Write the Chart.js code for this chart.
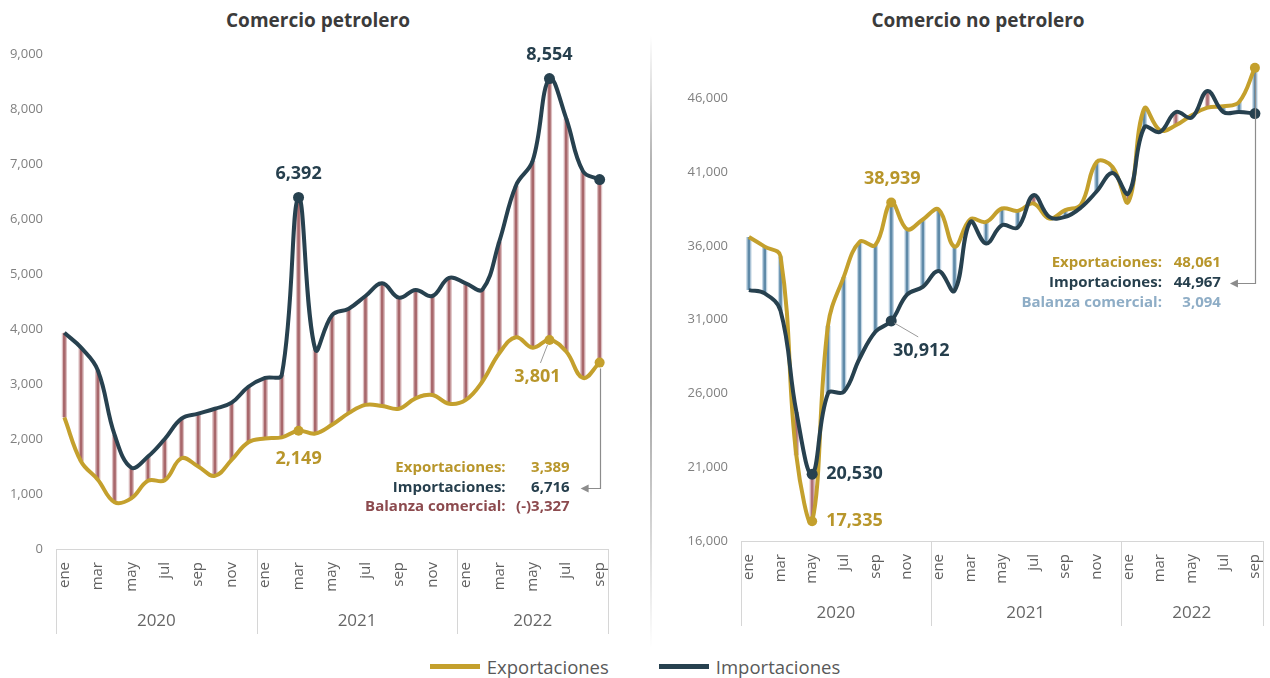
<!DOCTYPE html>
<html lang="es">
<head>
<meta charset="utf-8">
<title>Comercio petrolero y no petrolero</title>
<script src="https://cdn.jsdelivr.net/npm/chart.js@4.4.1/dist/chart.umd.min.js"></script>
<style>
  html, body { margin: 0; padding: 0; background: #fff; }
  body { width: 1270px; height: 678px; position: relative; overflow: hidden; font-family: 'Open Sans', sans-serif; }
  .titulo { position: absolute; top: 7px; font-weight: bold; font-size: 19px; color: #3b3b3b; text-align: center; }
  #panelIzq { position: absolute; left: 0; top: 0; }
  #panelDer { position: absolute; left: 655px; top: 0; }
  .separador { position: absolute; left: 650px; top: 36px; width: 2px; height: 612px;
    background: linear-gradient(to bottom, rgba(170,170,170,0), #b4b4b4 20%, #a8a8a8 60%, rgba(170,170,170,0)); }
  #leyenda { position: absolute; left: 0; top: 654px; width: 1270px; height: 24px; display: flex; justify-content: center; align-items: center; gap: 50px; }
  .item { display: flex; align-items: center; gap: 7px; font-size: 18.5px; color: #595959; }
  .linea { width: 50px; height: 5px; }
</style>
</head>
<body>
<div class="titulo" style="left:0;width:636px;">Comercio petrolero</div>
<div class="titulo" style="left:655px;width:646px;">Comercio no petrolero</div>
<div class="separador"></div>
<canvas id="panelIzq" width="640" height="645"></canvas>
<canvas id="panelDer" width="631" height="645"></canvas>
<div id="leyenda"></div>

<script>
// Datos mensuales, ene 2020 - sep 2022 (millones de dólares)
const meses = ['ene', 'feb', 'mar', 'abr', 'may', 'jun', 'jul', 'ago', 'sep', 'oct', 'nov', 'dic'];
const anios = ['2020', '2021', '2022'];
const series = ['Exportaciones', 'Importaciones'];

const exportacionesPetroleras = [2390, 1590, 1260, 850, 920, 1240, 1250, 1650, 1500, 1330, 1620, 1940,
  2010, 2030, 2149, 2100, 2260, 2470, 2620, 2600, 2550, 2740, 2800, 2640,
  2710, 3050, 3560, 3850, 3660, 3801, 3590, 3110, 3389];
const importacionesPetroleras = [3930, 3660, 3250, 2080, 1480, 1680, 2000, 2370, 2460, 2550, 2660, 2950,
  3110, 3170, 6392, 3630, 4250, 4370, 4600, 4830, 4570, 4710, 4600, 4930,
  4830, 4720, 5590, 6610, 7060, 8554, 7830, 6870, 6716];

const exportacionesNoPetroleras = [36600, 35950, 35300, 21800, 17335, 30600, 33900, 36270, 36050, 38939, 37130, 37790,
  38460, 35950, 37800, 37620, 38530, 38370, 38870, 37850, 38420, 38800, 41690, 41350,
  38980, 45300, 43830, 44170, 44850, 45370, 45460, 45750, 48061];
const importacionesNoPetroleras = [33000, 32780, 31600, 24760, 20530, 26000, 26110, 28370, 30180, 30912, 32700, 33220,
  34300, 32950, 37620, 36160, 37400, 37240, 39430, 37960, 37960, 38600, 39700, 40940,
  39550, 44020, 43720, 45070, 44690, 46490, 45070, 45070, 44967];

const ticksPetrolero = [0, 1000, 2000, 3000, 4000, 5000, 6000, 7000, 8000, 9000];
const ticksNoPetrolero = [16000, 21000, 26000, 31000, 36000, 41000, 46000];

// puntos destacados (índices de mes)
const marcasPetrolero = { exp: [14, 29, 32], imp: [14, 29, 32] };
const marcasNoPetrolero = { exp: [4, 9, 32], imp: [4, 9, 32] };

const ORO = '#c4a02d';
const AZUL_OSCURO = '#27414f';
const TEXTO_ORO = '#b8962b';
const TEXTO_OSCURO = '#263f4d';
const FUENTE = "'Open Sans', sans-serif";

const fmt = v => Math.round(v).toLocaleString('en-US');

const etiquetas = [];
anios.forEach(a => meses.forEach(m => {
  if (etiquetas.length < exportacionesPetroleras.length) etiquetas.push(m);
}));

// Eje de años con cajas debajo de los meses
const ejeAnios = {
  id: 'ejeAnios',
  afterDraw(chart, args, o) {
    const { ctx, chartArea: ca, scales: { x } } = chart;
    const paso = x.getPixelForValue(1) - x.getPixelForValue(0);
    const cortes = [x.left];
    for (let i = 12; i < chart.data.labels.length; i += 12) cortes.push(x.getPixelForValue(i) - paso / 2);
    cortes.push(x.right);
    ctx.save();
    ctx.strokeStyle = '#d6d6d6';
    ctx.lineWidth = 1;
    ctx.beginPath();
    ctx.moveTo(x.left, ca.bottom + 0.5);
    ctx.lineTo(x.right, ca.bottom + 0.5);
    cortes.forEach(c => {
      const cx = Math.round(c) + 0.5;
      ctx.moveTo(cx, ca.bottom);
      ctx.lineTo(cx, ca.bottom + o.largo);
    });
    ctx.stroke();
    ctx.fillStyle = '#666';
    ctx.font = '17px ' + FUENTE;
    ctx.textAlign = 'center';
    ctx.textBaseline = 'middle';
    anios.forEach((a, k) => ctx.fillText(a, (cortes[k] + cortes[k + 1]) / 2, ca.bottom + o.dy));
    ctx.restore();
  }
};

// Etiquetas de valores destacados
const etiquetasDatos = {
  id: 'etiquetasDatos',
  afterDatasetsDraw(chart, args, o) {
    const { ctx } = chart;
    ctx.save();
    ctx.font = 'bold 18px ' + FUENTE;
    ctx.textBaseline = 'middle';
    o.items.forEach(it => {
      const p = chart.getDatasetMeta(it.ds).data[it.i];
      const v = chart.data.datasets[it.ds].data[it.i];
      if (it.guia) {
        ctx.strokeStyle = '#9a9a9a';
        ctx.lineWidth = 1;
        ctx.beginPath();
        ctx.moveTo(p.x + it.guia[0], p.y + it.guia[1]);
        ctx.lineTo(p.x + it.guia[2], p.y + it.guia[3]);
        ctx.stroke();
      }
      ctx.fillStyle = it.color;
      ctx.textAlign = it.align || 'center';
      ctx.fillText(fmt(v), p.x + it.dx, p.y + it.dy);
    });
    ctx.restore();
  }
};

// Recuadro con el último dato y flecha
const resumen = {
  id: 'resumen',
  afterDatasetsDraw(chart, args, o) {
    const { ctx, chartArea: ca } = chart;
    const n = chart.data.labels.length - 1;
    const pe = chart.getDatasetMeta(1).data[n];
    const e = chart.data.datasets[1].data[n];
    const m = chart.data.datasets[2].data[n];
    const b = e - m;
    const filas = [
      [series[0] + ':', fmt(e), TEXTO_ORO],
      [series[1] + ':', fmt(m), TEXTO_OSCURO],
      ['Balanza comercial:', (b < 0 ? '(-)' : '') + fmt(Math.abs(b)), o.colorBalanza]
    ];
    const y0 = ca.bottom + o.y0;
    ctx.save();
    ctx.font = 'bold 15px ' + FUENTE;
    ctx.textBaseline = 'middle';
    filas.forEach((f, k) => {
      const y = y0 + k * o.sep;
      ctx.fillStyle = f[2];
      ctx.textAlign = 'right';
      ctx.fillText(f[0], pe.x - o.dxEtiqueta, y);
      ctx.fillText(f[1], pe.x - o.dxValor, y);
    });
    const ya = Math.round(y0 + o.sep) + 0.5;
    const xa = Math.round(pe.x) + 0.5;
    const xf = pe.x - o.dxFlecha;
    ctx.strokeStyle = '#8c8c8c';
    ctx.fillStyle = '#8c8c8c';
    ctx.lineWidth = 1.2;
    ctx.beginPath();
    ctx.moveTo(xa, pe.y + 6);
    ctx.lineTo(xa, ya);
    ctx.lineTo(xf + 6, ya);
    ctx.stroke();
    ctx.beginPath();
    ctx.moveTo(xf, ya);
    ctx.lineTo(xf + 8, ya - 4);
    ctx.lineTo(xf + 8, ya + 4);
    ctx.closePath();
    ctx.fill();
    ctx.restore();
  }
};

function crearPanel(id, exp, imp, ticks, marcas, cfg) {
  const radios = (lista, r) => exp.map((_, i) => lista.includes(i) ? r : 0);
  return new Chart(document.getElementById(id), {
    data: {
      labels: etiquetas,
      datasets: [
        {
          type: 'bar',
          label: 'Balanza',
          data: exp.map((e, i) => [Math.min(e, imp[i]), Math.max(e, imp[i])]),
          backgroundColor: exp.map((e, i) => e >= imp[i] ? cfg.azulCentro : cfg.rojoCentro),
          borderColor: exp.map((e, i) => e >= imp[i] ? '#c3d6e4' : '#dcbfc1'),
          borderWidth: { left: 1.5, right: 1.5, top: 0, bottom: 0 },
          borderSkipped: false,
          barThickness: 5,
          order: 3
        },
        {
          type: 'line',
          label: series[0],
          data: exp,
          borderColor: ORO,
          backgroundColor: ORO,
          borderWidth: 4,
          tension: 0.4,
          pointRadius: radios(marcas.exp, 5),
          pointBorderWidth: 0,
          pointBackgroundColor: ORO,
          clip: false,
          order: 2
        },
        {
          type: 'line',
          label: series[1],
          data: imp,
          borderColor: AZUL_OSCURO,
          backgroundColor: AZUL_OSCURO,
          borderWidth: 4,
          tension: 0.4,
          pointRadius: radios(marcas.imp, 5.5),
          pointBorderWidth: 0,
          pointBackgroundColor: AZUL_OSCURO,
          clip: false,
          order: 1
        }
      ]
    },
    options: {
      responsive: false,
      animation: false,
      layout: { padding: { top: 54, right: cfg.derecha, bottom: 0, left: 0 } },
      plugins: {
        legend: { display: false },
        tooltip: { enabled: false },
        ejeAnios: { largo: 85, dy: 72 },
        etiquetasDatos: { items: cfg.etiquetas },
        resumen: cfg.resumen
      },
      scales: {
        x: {
          offset: true,
          grid: { display: false, drawTicks: false },
          border: { display: false },
          ticks: {
            autoSkip: false, minRotation: 90, maxRotation: 90, padding: 13,
            color: '#5f5f5f', font: { size: 15, family: FUENTE },
            callback(v, i) { return i % 2 === 0 ? this.getLabelForValue(v) : ''; }
          },
          afterFit(s) { s.height = cfg.altoX; }
        },
        y: {
          min: cfg.min, max: cfg.max,
          grid: { display: false, drawTicks: false },
          border: { display: false },
          ticks: { padding: 13, color: '#808080', font: { size: 13, family: FUENTE }, callback: v => fmt(v) },
          afterBuildTicks(s) { s.ticks = ticks.map(v => ({ value: v })); },
          afterFit(s) { s.width = cfg.anchoY; }
        }
      }
    },
    plugins: [ejeAnios, etiquetasDatos, resumen]
  });
}

crearPanel('panelIzq', exportacionesPetroleras, importacionesPetroleras, ticksPetrolero, marcasPetrolero, {
  min: 0, max: 9000, anchoY: 56, altoX: 96, derecha: 32,
  azulCentro: '#5f8aa8', rojoCentro: '#a8676b',
  etiquetas: [
    { ds: 2, i: 14, dx: 0, dy: -24, color: TEXTO_OSCURO },
    { ds: 2, i: 29, dx: 0, dy: -24, color: TEXTO_OSCURO },
    { ds: 1, i: 14, dx: 0, dy: 28, color: TEXTO_ORO },
    { ds: 1, i: 29, dx: -12, dy: 37, color: TEXTO_ORO, guia: [-2, 5, -9, 23] }
  ],
  resumen: { y0: -81, sep: 19.5, dxEtiqueta: 94, dxValor: 30, dxFlecha: 19, colorBalanza: '#8c4a4e' }
});

crearPanel('panelDer', exportacionesNoPetroleras, importacionesNoPetroleras, ticksNoPetrolero, marcasNoPetrolero, {
  min: 16000, max: 49000, anchoY: 86, altoX: 104, derecha: 0,
  azulCentro: '#5f8aa8', rojoCentro: '#b07176',
  etiquetas: [
    { ds: 1, i: 9, dx: 1, dy: -24, color: TEXTO_ORO },
    { ds: 2, i: 9, dx: 30, dy: 30, color: TEXTO_OSCURO, guia: [3, 2, 27, 16] },
    { ds: 2, i: 4, dx: 14, dy: 0, color: TEXTO_OSCURO, align: 'left' },
    { ds: 1, i: 4, dx: 14, dy: 0, color: TEXTO_ORO, align: 'left' }
  ],
  resumen: { y0: -278, sep: 20, dxEtiqueta: 93, dxValor: 34, dxFlecha: 25, colorBalanza: '#8eadc6' }
});

// Leyenda común
const leyenda = document.getElementById('leyenda');
[ORO, AZUL_OSCURO].forEach((c, k) => {
  const item = document.createElement('div');
  item.className = 'item';
  item.innerHTML = '<span class="linea" style="background:' + c + '"></span><span>' + series[k] + '</span>';
  leyenda.appendChild(item);
});
</script>
</body>
</html>
